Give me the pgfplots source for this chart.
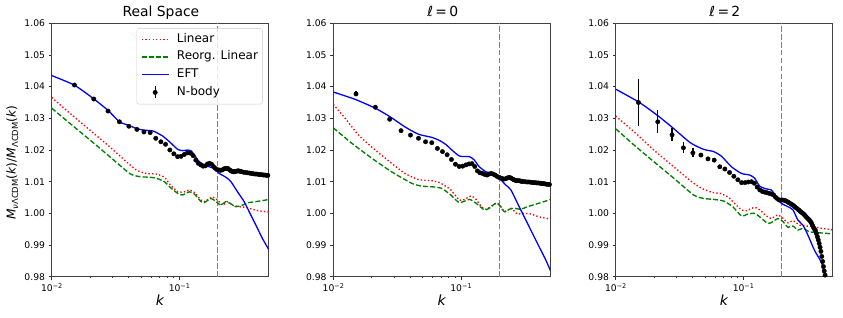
\documentclass[border=0pt]{standalone}
\usepackage{fontspec}
\setmainfont{DejaVu Sans}
\usepackage{pgfplots}
\usepackage{pgfplotstable}
\pgfplotsset{compat=1.18}
\newcommand{\sub}[1]{\raisebox{-2.5pt}{\fontsize{8.4}{10}\selectfont #1}}
\newcommand{\tenpow}[1]{10\raisebox{3.6pt}{\fontsize{6.5}{7}\selectfont #1}}

\pgfplotstableread{
k v e
0.01507 1.0405 0.0005
0.02135 1.0361 0.0003
0.02763 1.0323 0.0002
0.03391 1.0289 0.0002
0.04019 1.0275 0.0002
0.04647 1.0265 0.0002
0.05275 1.0257 0.0002
0.05903 1.0255 0.0001
0.06531 1.0237 0.0001
0.07159 1.0226 0.0001
0.07787 1.0218 0.0001
0.08415 1.0200 0.0001
0.09043 1.0188 0.0001
0.09671 1.0179 0.0001
0.10299 1.0180 0.0001
0.10927 1.0186 0.0001
0.11555 1.0191 0.0001
0.12183 1.0190 0.0001
0.12811 1.0182 0.0001
0.1344 1.0168 0.0001
0.1407 1.0158 0.0001
0.1470 1.0153 0.0001
0.1532 1.0149 0.0001
0.1595 1.0150 0.0001
0.1658 1.0156 0.0001
0.1721 1.0158 0.0001
0.1784 1.0155 0.0001
0.1846 1.0148 0.0001
0.1909 1.0142 0.0001
0.1972 1.0138 0.0001
0.2035 1.0137 0.0001
0.2098 1.0136 0.0001
0.2160 1.0137 0.0001
0.2223 1.0140 0.0001
0.2286 1.0142 0.0001
0.2349 1.0142 0.0001
0.2412 1.0141 0.0001
0.2474 1.0137 0.0001
0.2537 1.0134 0.0001
0.2600 1.0132 0.0001
0.2663 1.0131 0.0001
0.2726 1.0132 0.0001
0.2788 1.0133 0.0001
0.2851 1.0134 0.0001
0.2914 1.0134 0.0001
0.2977 1.0133 0.0001
0.3040 1.0132 0.0001
0.3165 1.0130 0.0001
0.3291 1.0129 0.0001
0.3416 1.0128 0.0001
0.3542 1.0127 0.0001
0.3668 1.0126 0.0001
0.3793 1.0125 0.0001
0.3919 1.0124 0.0001
0.4045 1.0124 0.0001
0.4170 1.0123 0.0001
0.4296 1.0122 0.0001
0.4421 1.0122 0.0001
0.4547 1.0121 0.0001
0.4672 1.0121 0.0001
0.4798 1.0120 0.0001
0.4924 1.0120 0.0001
}\nbodyA

\pgfplotstableread{
k v e
0.01507 1.0377 0.0008
0.02135 1.0335 0.0004
0.02763 1.0297 0.0003
0.03391 1.0261 0.0002
0.04019 1.0247 0.0002
0.04647 1.0237 0.0002
0.05275 1.0226 0.0002
0.05903 1.0223 0.0001
0.06531 1.0205 0.0001
0.07159 1.0195 0.0001
0.07787 1.0185 0.0001
0.08415 1.0170 0.0001
0.09043 1.0155 0.0001
0.09671 1.0148 0.0001
0.10299 1.0149 0.0001
0.10927 1.0153 0.0001
0.11555 1.0156 0.0001
0.12183 1.0157 0.0001
0.12811 1.0148 0.0001
0.1344 1.0134 0.0001
0.1407 1.0128 0.0001
0.1470 1.0126 0.0001
0.1532 1.0123 0.0001
0.1595 1.0121 0.0001
0.1658 1.0124 0.0001
0.1721 1.0126 0.0001
0.1784 1.0124 0.0001
0.1846 1.0121 0.0001
0.1909 1.0117 0.0001
0.1972 1.0114 0.0001
0.2035 1.0112 0.0001
0.2098 1.0110 0.0001
0.2160 1.0108 0.0001
0.2223 1.0109 0.0001
0.2286 1.0111 0.0001
0.2349 1.0113 0.0001
0.2412 1.0113 0.0001
0.2474 1.0111 0.0001
0.2537 1.0108 0.0001
0.2600 1.0106 0.0001
0.2663 1.0104 0.0001
0.2726 1.0103 0.0001
0.2788 1.0103 0.0001
0.2851 1.0103 0.0001
0.2914 1.0102 0.0001
0.2977 1.0101 0.0001
0.3040 1.0101 0.0001
0.3165 1.0100 0.0001
0.3291 1.0099 0.0001
0.3416 1.0099 0.0001
0.3542 1.0098 0.0001
0.3668 1.0097 0.0001
0.3793 1.0097 0.0001
0.3919 1.0096 0.0001
0.4045 1.0096 0.0001
0.4170 1.0095 0.0001
0.4296 1.0094 0.0001
0.4421 1.0094 0.0001
0.4547 1.0093 0.0001
0.4672 1.0092 0.0001
0.4798 1.0092 0.0001
0.4924 1.0091 0.0001
}\nbodyB

\pgfplotstableread{
k v e
0.01507 1.0350 0.0074
0.02135 1.0289 0.0036
0.02763 1.0248 0.0020
0.03391 1.0207 0.0017
0.04019 1.0191 0.0014
0.04647 1.0184 0.0006
0.05275 1.0172 0.0004
0.05903 1.0168 0.0003
0.06531 1.0147 0.0003
0.07159 1.0140 0.0002
0.07787 1.0129 0.0002
0.08415 1.0117 0.0001
0.09043 1.0106 0.0001
0.09671 1.0097 0.0001
0.10299 1.0097 0.0001
0.10927 1.0099 0.0001
0.11555 1.0100 0.0001
0.12183 1.0095 0.0001
0.12811 1.0083 0.0001
0.1344 1.0074 0.0001
0.1407 1.0069 0.0001
0.1470 1.0067 0.0001
0.1532 1.0065 0.0001
0.1595 1.0063 0.0001
0.1658 1.0061 0.0001
0.1721 1.0058 0.0001
0.1784 1.0051 0.0001
0.1846 1.0046 0.0001
0.1909 1.0042 0.0001
0.1972 1.0042 0.0001
0.2035 1.0042 0.0001
0.2098 1.0041 0.0001
0.2160 1.0039 0.0001
0.2223 1.0036 0.0001
0.2286 1.0033 0.0001
0.2349 1.0030 0.0001
0.2412 1.0027 0.0001
0.2474 1.0024 0.0001
0.2537 1.0020 0.0001
0.2600 1.0017 0.0001
0.2663 1.0013 0.0001
0.2726 1.0010 0.0001
0.2788 1.0006 0.0001
0.2851 1.0003 0.0001
0.2914 1.0000 0.0001
0.2977 0.9997 0.0001
0.3040 0.9993 0.0001
0.3102 0.9989 0.0001
0.3165 0.9985 0.0001
0.3228 0.9982 0.0001
0.3291 0.9978 0.0001
0.3354 0.9974 0.0001
0.3416 0.9969 0.0001
0.3479 0.9962 0.0001
0.3542 0.9955 0.0001
0.3605 0.9950 0.0001
0.3668 0.9945 0.0001
0.3730 0.9936 0.0001
0.3793 0.9926 0.0001
0.3856 0.9916 0.0001
0.3919 0.9905 0.0001
0.3982 0.9893 0.0001
0.4045 0.9880 0.0001
0.4107 0.9864 0.0001
0.4170 0.9848 0.0001
0.4233 0.9832 0.0001
0.4296 0.9818 0.0001
0.4359 0.9805 0.0001
}\nbodyC

\definecolor{mplred}{RGB}{255,0,0}
\definecolor{mplgreen}{RGB}{0,128,0}
\definecolor{mplblue}{RGB}{0,0,255}

\pgfplotsset{
  every axis/.append style={
    scale only axis, width=217pt, height=253.4pt,
    xmin=0.01, xmax=0.5, ymin=0.98, ymax=1.06,
    ytick={0.98,0.99,1.00,1.01,1.02,1.03,1.04,1.05,1.06},
    xtick={0.01,0.1}, xticklabels={\tenpow{−2},\tenpow{−1}},
    yticklabel style={/pgf/number format/fixed, /pgf/number format/fixed zerofill, /pgf/number format/precision=2, /pgf/number format/assume math mode=true},
    tick label style={font=\fontsize{9.2}{10}\selectfont},
    tick align=outside, tick pos=left,
    major tick length=3.2pt, minor tick length=1.8pt,
    tick style={black!80, line width=0.7pt},
    axis line style={black!75, line width=0.8pt},
    xlabel={\textit{k}},
    xlabel style={at={(0.5,0)}, anchor=base, yshift=-29.3pt, font=\fontsize{14}{16}\selectfont},
  },
  linr/.style={mplred, line width=1.35pt, dash pattern=on 1.35pt off 2.2pt, smooth, tension=0.4},
  reorg/.style={mplgreen, line width=1.35pt, dash pattern=on 5pt off 2.2pt, smooth, tension=0.4},
  eft/.style={mplblue, line width=1.3pt, smooth, tension=0.4},
  nbody/.style={black, only marks, mark=*, mark size=2.2pt,
    mark options={draw=black, fill=black},
    error bars/y dir=both, error bars/y explicit, error bars/error mark=none,
    error bars/error bar style={line width=1.3pt, black}},
  kline/.style={draw=black!50, line width=1.2pt, dash pattern=on 5.5pt off 2.4pt, forget plot},
  legr/.style={legend image code/.code={\path[draw=none] (0pt,0pt) -- (35.1pt,0pt); \draw[mplred, line width=1.35pt, dash pattern=on 1.35pt off 2.2pt] (0pt,0pt) -- (26.7pt,0pt);}},
  legg/.style={legend image code/.code={\path[draw=none] (0pt,0pt) -- (35.1pt,0pt); \draw[mplgreen, line width=1.35pt, dash pattern=on 5pt off 2.2pt] (0pt,0pt) -- (26.7pt,0pt);}},
  legb/.style={legend image code/.code={\path[draw=none] (0pt,0pt) -- (35.1pt,0pt); \draw[mplblue, line width=1.3pt] (0pt,0pt) -- (26.7pt,0pt);}},
  legk/.style={legend image code/.code={\path[draw=none] (0pt,0pt) -- (35.1pt,0pt); \draw[black, line width=1.3pt] (13.3pt,-6pt) -- (13.3pt,6pt); \fill[black, fill opacity=1] (13.3pt,0pt) circle (2.2pt);}},
}

\begin{document}
\begin{tikzpicture}[x=1pt,y=1pt]
\useasboundingbox (0,0) rectangle (843,318);

\begin{semilogxaxis}[at={(51.7pt,41.3pt)}, anchor=south west,
  ylabel={\textit{M}\sub{\textit{ν}ΛCDM}(\textit{k})/\textit{M}\sub{ΛCDM}(\textit{k})},
  ylabel style={at={(-0.181,0.45)}, anchor=center, font=\fontsize{12.2}{14}\selectfont},
  legend cell align=left,
  legend style={at={(0.972,0.980)}, anchor=north east, draw=black!20, rounded corners=2pt,
    fill=white, fill opacity=0.8, text opacity=1, draw opacity=1,
    font=\fontsize{12}{14}\selectfont, inner xsep=4.4pt, inner ysep=5pt, row sep=5.4pt,
    nodes={inner sep=0pt, text height=9pt, text depth=3pt, anchor=west}},
]
\addplot[kline] coordinates {(0.2,0.98) (0.2,1.06)};
\addplot[linr, legr] coordinates {
(0.01,1.0366) (0.01389,1.0316) (0.01988,1.0263) (0.02847,1.0210) (0.03842,1.0163) (0.04598,1.0137)
(0.05501,1.0126) (0.06582,1.0124) (0.07638,1.0114) (0.08356,1.0093) (0.09698,1.0068)
(0.1094,1.0068) (0.1197,1.0074) (0.1309,1.0066) (0.1476,1.0042) (0.1566,1.0037) (0.1713,1.0047)
(0.1818,1.0052) (0.1988,1.0042) (0.2176,1.0026) (0.2379,1.0037) (0.2602,1.0026) (0.2936,1.0021)
(0.3311,1.0019) (0.3725,1.0013) (0.4203,1.0008) (0.5,1.0004)};
\addlegendentry{Linear}
\addplot[reorg, legg] coordinates {
(0.01,1.0332) (0.01389,1.0284) (0.01988,1.0232) (0.02847,1.0179) (0.04076,1.0126) (0.04878,1.0116)
(0.05836,1.0114) (0.06582,1.0111) (0.07638,1.0100) (0.08356,1.0084) (0.09698,1.0063) (0.1061,1.0058)
(0.1197,1.0068) (0.1309,1.0061) (0.1476,1.0037) (0.1566,1.0034) (0.1766,1.0047) (0.1932,1.0037)
(0.2113,1.0026) (0.2312,1.0037) (0.2529,1.0030) (0.2766,1.0021) (0.3114,1.0026) (0.3513,1.0034)
(0.3960,1.0037) (0.4459,1.0040) (0.5,1.0044)};
\addlegendentry{Reorg. Linear}
\addplot[eft, legb] coordinates {
(0.01,1.0435) (0.015,1.0405) (0.0211,1.0363) (0.0276,1.0325) (0.034,1.0289) (0.040,1.0278)
(0.046,1.0268) (0.052,1.0263) (0.062,1.0260) (0.0698,1.0250) (0.074,1.0244) (0.0836,1.0226)
(0.097,1.0202) (0.106,1.0198) (0.116,1.0200) (0.123,1.0198) (0.131,1.0184) (0.143,1.0163)
(0.157,1.0153) (0.171,1.0147) (0.1875,1.0142) (0.1953,1.0137) (0.205,1.0126) (0.231,1.0114)
(0.253,1.0100) (0.285,1.0068) (0.321,1.0037) (0.362,0.9995) (0.408,0.9953) (0.446,0.9921) (0.5,0.9886)};
\addlegendentry{EFT}
\addplot[nbody, legk] table[x=k, y=v, y error=e] {\nbodyA};
\addlegendentry{N-body}
\end{semilogxaxis}

\begin{semilogxaxis}[at={(333.3pt,41.3pt)}, anchor=south west]
\addplot[kline] coordinates {(0.2,0.98) (0.2,1.06)};
\addplot[linr] coordinates {
(0.01,1.0344) (0.0124,1.0300) (0.01578,1.0247) (0.02126,1.0200) (0.02867,1.0158) (0.0364,1.0126)
(0.0463,1.0107) (0.0588,1.0103) (0.0679,1.0097) (0.0769,1.0084) (0.0832,1.0074) (0.0971,1.0042)
(0.1063,1.0044) (0.1199,1.0055) (0.1311,1.0044) (0.1434,1.0023) (0.1569,1.0013) (0.1766,1.0026)
(0.1932,1.0032) (0.2054,1.0016) (0.2246,1.0005) (0.2457,1.0016) (0.2766,0.9998) (0.3119,1.0000)
(0.3519,0.9998) (0.4083,0.9989) (0.5,0.9982)};
\addplot[reorg] coordinates {
(0.01,1.0270) (0.01398,1.0221) (0.02003,1.0174) (0.02867,1.0131) (0.0411,1.0095) (0.0491,1.0086)
(0.0588,1.0084) (0.0704,1.0079) (0.0832,1.0058) (0.0971,1.0034) (0.1163,1.0044) (0.1311,1.0032)
(0.1522,1.0011) (0.1665,1.0016) (0.1878,1.0032) (0.2054,1.0021) (0.2180,1.0005) (0.2383,1.0013)
(0.2607,1.0016) (0.2941,1.0013) (0.3311,1.0021) (0.3848,1.0029) (0.4467,1.0037) (0.5,1.0044)};
\addplot[eft] coordinates {
(0.01,1.0383) (0.0148,1.0360) (0.0213,1.0332) (0.0278,1.0305) (0.0364,1.0273) (0.0463,1.0250)
(0.0588,1.0240) (0.0679,1.0230) (0.0769,1.0216) (0.0832,1.0203) (0.0971,1.0181) (0.1163,1.0179)
(0.1272,1.0168) (0.1391,1.0147) (0.1569,1.0131) (0.1766,1.0126) (0.1992,1.0111) (0.2246,1.0089)
(0.2457,1.0074) (0.2852,1.0021) (0.3217,0.9979) (0.3620,0.9937) (0.4083,0.9895) (0.4606,0.9853) (0.5,0.9820)};
\addplot[nbody] table[x=k, y=v, y error=e] {\nbodyB};
\end{semilogxaxis}

\begin{semilogxaxis}[at={(615.7pt,41.3pt)}, anchor=south west]
\addplot[kline] coordinates {(0.2,0.98) (0.2,1.06)};
\addplot[linr] coordinates {
(0.01,1.0307) (0.01389,1.0258) (0.01988,1.0200) (0.02847,1.0147) (0.04076,1.0095) (0.0488,1.0076)
(0.0584,1.0065) (0.0658,1.0063) (0.0764,1.0051) (0.0825,1.0037) (0.0965,1.0011) (0.1055,1.0008)
(0.1224,1.0019) (0.1340,1.0011) (0.1511,0.9992) (0.1653,0.9984) (0.1864,0.9995) (0.2039,0.9984)
(0.2231,0.9970) (0.2440,0.9977) (0.2746,0.9963) (0.3097,0.9960) (0.3495,0.9958) (0.4055,0.9953) (0.5,0.9948)};
\addplot[reorg] coordinates {
(0.01,1.0267) (0.01389,1.0216) (0.01988,1.0163) (0.02847,1.0111) (0.04076,1.0058) (0.0488,1.0047)
(0.0584,1.0044) (0.0698,1.0039) (0.0825,1.0021) (0.0965,0.9992) (0.1088,0.9998) (0.1224,1.0000)
(0.1340,0.9989) (0.1558,0.9968) (0.1704,0.9974) (0.1864,0.9984) (0.2039,0.9974) (0.2231,0.9956)
(0.2440,0.9960) (0.2669,0.9947) (0.2920,0.9953) (0.3287,0.9942) (0.3821,0.9939) (0.4435,0.9937) (0.5,0.9935)};
\addplot[eft] coordinates {
(0.01,1.0392) (0.0152,1.0351) (0.0211,1.0310) (0.0276,1.0272) (0.0384,1.0223) (0.0488,1.0202)
(0.0584,1.0195) (0.0674,1.0180) (0.0806,1.0147) (0.0965,1.0126) (0.1119,1.0121) (0.1224,1.0111)
(0.1340,1.0086) (0.1511,1.0077) (0.1653,1.0074) (0.1808,1.0052) (0.1978,1.0032) (0.2231,1.0021)
(0.2440,1.0011) (0.2669,0.9979) (0.2920,0.9963) (0.3193,0.9932) (0.3594,0.9884) (0.4055,0.9847)
(0.4356,0.9811) (0.4600,0.9778)};
\addplot[nbody] table[x=k, y=v, y error=e] {\nbodyC};
\end{semilogxaxis}

\node[anchor=base west, inner sep=0pt, font=\fontsize{13.9}{16}\selectfont] at (160.2,301) {\makebox[0pt][c]{Real Space}};
\node[anchor=base west, inner sep=0pt, font=\fontsize{13.9}{16}\selectfont] at (442.0,301) {\makebox[0pt][c]{\textit{ℓ}\,=\,0}};
\node[anchor=base west, inner sep=0pt, font=\fontsize{13.9}{16}\selectfont] at (724.2,301) {\makebox[0pt][c]{\textit{ℓ}\,=\,2}};
\end{tikzpicture}
\end{document}
